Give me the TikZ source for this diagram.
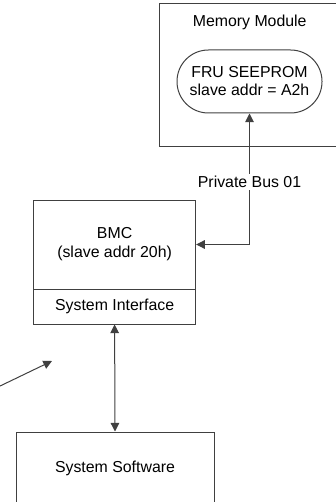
\documentclass[tikz,border=0pt]{standalone}
\usepackage{fontspec}
\setmainfont{Liberation Sans}
\usetikzlibrary{arrows.meta}
\begin{document}
\begin{tikzpicture}[x=0.75pt,y=-0.75pt,
  line/.style={draw=black!75,line width=0.75pt},
  box/.style={line,rectangle,inner sep=0pt,align=center,font=\fontsize{11.9}{14.3}\selectfont},
  txt/.style={inner sep=0pt,align=center,font=\fontsize{11.9}{14.3}\selectfont},
  tip/.style={Triangle[length=6.5pt,width=6.5pt]},
  arr/.style={line,-{Triangle[length=6.5pt,width=6.5pt]}},
  darr/.style={line,{Triangle[length=6.5pt,width=6.5pt]}-{Triangle[length=6.5pt,width=6.5pt]}}]
\useasboundingbox (0,0) rectangle (335,502);
\node[box,minimum width=139.5pt,minimum height=107.25pt] (mem) at (252,75.5) {};
\node[txt] (memlbl) at (249.7,22) {Memory Module};
\node[box,minimum width=108.75pt,minimum height=47.25pt,rounded corners=23.5pt,font=\fontsize{11.9}{13.5}\selectfont] (fru) at (249.5,81.5) {FRU SEEPROM\\slave addr = A2h};
\node[box,minimum width=121.65pt,minimum height=66.75pt] (bmc) at (114.6,244.5) {BMC\\(slave addr 20h)};
\node[box,minimum width=121.65pt,minimum height=26.25pt] (sysif) at (114.6,306.5) {System Interface};
\node[box,minimum width=148.5pt,minimum height=54pt] (sw) at (115,468) {System Software};
\coordinate (corner) at (fru.south |- bmc.east);
\draw[darr] (fru.south) -- (corner) -- (bmc.east);
\node[txt,fill=white,inner sep=1.5pt] (bus) at (249.5,182) {Private Bus 01};
\draw[darr] (sysif.south) -- (sw.north);
\coordinate (d0) at (-2,387);
\coordinate (d1) at (52,361);
\draw[arr] (d0) -- (d1);
\end{tikzpicture}
\end{document}
